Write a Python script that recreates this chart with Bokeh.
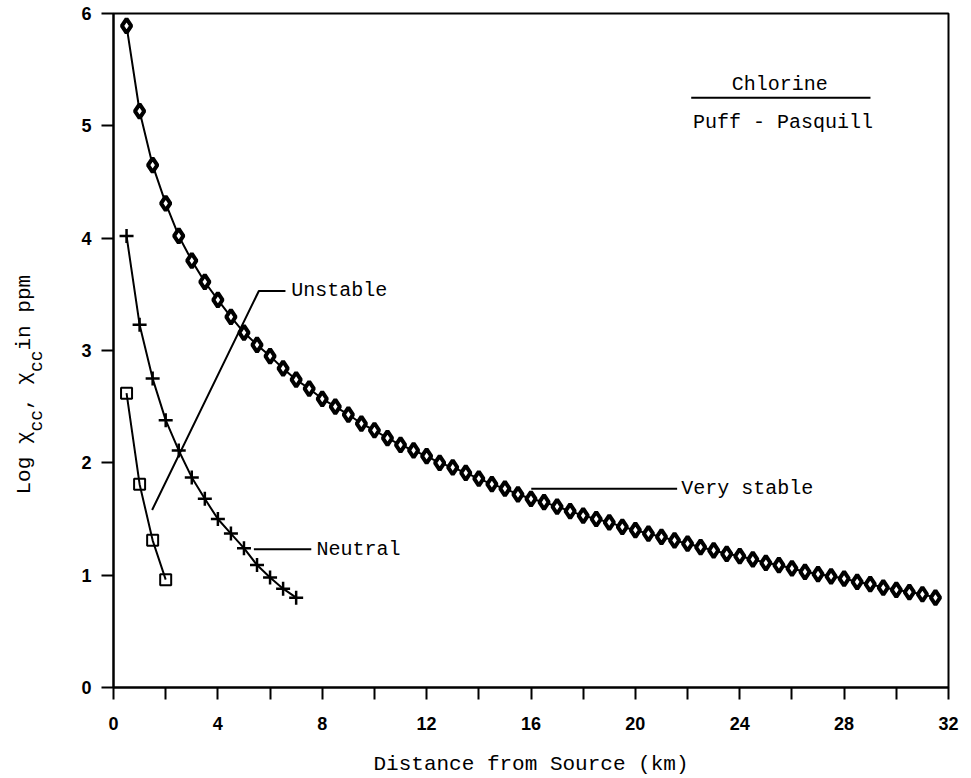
from bokeh.plotting import figure
from bokeh.layouts import row
from bokeh.models import Range1d, FixedTicker, Label
from bokeh.embed import file_html
from bokeh.resources import INLINE

# ---------------- data ----------------
very_stable_km = [0.5, 1.0, 1.5, 2.0, 2.5, 3.0, 3.5, 4.0, 4.5, 5.0, 5.5, 6.0, 6.5, 7.0,
                  7.5, 8.0, 8.5, 9.0, 9.5, 10.0, 10.5, 11.0, 11.5, 12.0, 12.5, 13.0,
                  13.5, 14.0, 14.5, 15.0, 15.5, 16.0, 16.5, 17.0, 17.5, 18.0, 18.5,
                  19.0, 19.5, 20.0, 20.5, 21.0, 21.5, 22.0, 22.5, 23.0, 23.5, 24.0,
                  24.5, 25.0, 25.5, 26.0, 26.5, 27.0, 27.5, 28.0, 28.5, 29.0, 29.5,
                  30.0, 30.5, 31.0, 31.5]
very_stable_log = [5.89, 5.13, 4.65, 4.31, 4.02, 3.80, 3.61, 3.45, 3.30, 3.16, 3.05, 2.95,
                   2.84, 2.74, 2.66, 2.57, 2.50, 2.43, 2.35, 2.29, 2.22, 2.16, 2.11, 2.06,
                   2.00, 1.96, 1.91, 1.86, 1.81, 1.77, 1.72, 1.68, 1.65, 1.61, 1.57, 1.53,
                   1.50, 1.47, 1.43, 1.40, 1.37, 1.34, 1.31, 1.28, 1.25, 1.22, 1.19, 1.17,
                   1.14, 1.11, 1.09, 1.06, 1.03, 1.01, 0.99, 0.97, 0.94, 0.92, 0.89, 0.87,
                   0.85, 0.83, 0.80]

neutral_km = [0.5, 1.0, 1.5, 2.0, 2.5, 3.0, 3.5, 4.0, 4.5, 5.0, 5.5, 6.0, 6.5, 7.0]
neutral_log = [4.02, 3.23, 2.75, 2.38, 2.11, 1.87, 1.68, 1.50, 1.37, 1.24, 1.09, 0.98, 0.88, 0.80]

unstable_km = [0.5, 1.0, 1.5, 2.0]
unstable_log = [2.62, 1.81, 1.31, 0.96]

x_major_ticks = [0, 4, 8, 12, 16, 20, 24, 28, 32]
x_minor_ticks = [2, 6, 10, 14, 18, 22, 26, 30]
y_ticks = [0, 1, 2, 3, 4, 5, 6]

x_title = "Distance from Source (km)"
# y title pieces: (text, is_subscript)
y_title_pieces = [("Log χ", False), ("cc", True), (", χ", False), ("cc", True), (" in ppm", False)]

MONO = "Liberation Mono"
TICKFONT = "Liberation Sans"

LEFT_W = 45
TOTAL_W, TOTAL_H = 971, 778
FRAME_TOP, FRAME_BOTTOM = 13, 687

# ---------------- left strip holding the rotated y title ----------------
# its frame is given the same vertical extent as the main frame, and its
# y range runs in screen pixels so the title pieces can be laid out in sequence
side = figure(width=LEFT_W, height=TOTAL_H, output_backend="svg", toolbar_location=None,
              x_range=Range1d(0, LEFT_W), y_range=Range1d(FRAME_BOTTOM, FRAME_TOP),
              x_axis_type=None, y_axis_type=None,
              min_border_left=0, min_border_right=0,
              min_border_top=FRAME_TOP, min_border_bottom=TOTAL_H - FRAME_BOTTOM)
side.outline_line_color = None
side.background_fill_color = "white"
side.border_fill_color = "white"
side.xgrid.visible = False
side.ygrid.visible = False

pos = 494.0
for txt, is_sub in y_title_pieces:
    size_px = 18 if is_sub else 21
    side.add_layout(Label(x=36 if is_sub else 24, y=pos, text=txt, text_font=MONO,
                          text_font_size=f"{size_px}px", text_align="left",
                          text_baseline="alphabetic", angle=1.5707963,
                          text_color="black"))
    pos -= len(txt) * size_px * 0.6

# ---------------- main figure ----------------
p = figure(width=TOTAL_W - LEFT_W, height=TOTAL_H, output_backend="svg",
           toolbar_location=None,
           x_range=Range1d(0, 32), y_range=Range1d(0, 6),
           min_border_left=113 - LEFT_W, min_border_right=23, min_border_top=FRAME_TOP,
           min_border_bottom=TOTAL_H - FRAME_BOTTOM)
p.background_fill_color = "white"
p.border_fill_color = "white"
p.outline_line_color = "black"
p.outline_line_width = 2
p.xgrid.visible = False
p.ygrid.visible = False

p.xaxis.ticker = FixedTicker(ticks=x_major_ticks, minor_ticks=x_minor_ticks)
p.yaxis.ticker = FixedTicker(ticks=y_ticks, minor_ticks=[])
for ax in (p.xaxis, p.yaxis):
    ax.axis_line_color = "black"
    ax.axis_line_width = 2
    ax.major_tick_line_color = "black"
    ax.major_tick_line_width = 2
    ax.minor_tick_line_color = "black"
    ax.minor_tick_line_width = 2
    ax.major_tick_in = 0
    ax.major_tick_out = 12
    ax.minor_tick_in = 0
    ax.minor_tick_out = 12
    ax.major_label_text_font = TICKFONT
    ax.major_label_text_font_style = "bold"
    ax.major_label_text_font_size = "18px"
    ax.major_label_text_color = "black"
p.xaxis.major_label_standoff = 17
p.yaxis.major_label_standoff = 10

p.xaxis.axis_label = x_title
p.xaxis.axis_label_text_font = MONO
p.xaxis.axis_label_text_font_style = "normal"
p.xaxis.axis_label_text_font_size = "21px"
p.xaxis.axis_label_text_color = "black"
p.xaxis.axis_label_standoff = 20

# ---------------- curves ----------------
p.line(very_stable_km, very_stable_log, line_color="black", line_width=2)
p.scatter(very_stable_km, very_stable_log, marker="diamond", size=14,
          line_color="black", line_width=4, fill_color="white")

p.line(neutral_km, neutral_log, line_color="black", line_width=2)
p.scatter(neutral_km, neutral_log, marker="cross", size=14,
          line_color="black", line_width=2.5)

p.line(unstable_km, unstable_log, line_color="black", line_width=2)
p.scatter(unstable_km, unstable_log, marker="square", size=11,
          line_color="black", line_width=2, fill_alpha=0)

# ---------------- leader lines & labels ----------------
p.line([1.48, 5.57, 6.59], [1.58, 3.53, 3.53], line_color="black", line_width=2)
p.line([5.38, 7.58], [1.23, 1.23], line_color="black", line_width=2)
p.line([16.01, 21.60], [1.77, 1.77], line_color="black", line_width=2)
p.line([22.14, 29.01], [5.25, 5.25], line_color="black", line_width=2)


def add_text(x, y, text, size="20px", align="left"):
    p.add_layout(Label(x=x, y=y, text=text, text_font=MONO, text_font_size=size,
                       text_align=align, text_baseline="middle", text_color="black"))


add_text(6.81, 3.53, "Unstable")
add_text(7.78, 1.23, "Neutral")
add_text(21.76, 1.77, "Very stable")
add_text(25.53, 5.37, "Chlorine", align="center")
add_text(22.21, 5.03, "Puff - Pasquill")

layout = row(side, p, spacing=0)
open("out.html", "w").write(file_html(layout, INLINE))
